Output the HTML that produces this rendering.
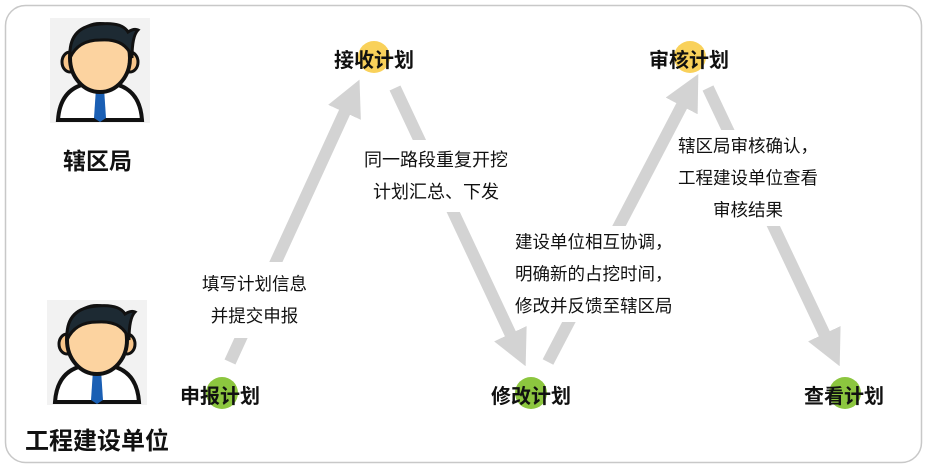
<!DOCTYPE html>
<html><head><meta charset="utf-8"><style>
body{margin:0;background:#fff;}
.t{position:absolute;font-family:"Liberation Sans","Noto Sans CJK SC",sans-serif;color:#111;white-space:nowrap;}
</style></head><body>
<div style="position:relative;width:927px;height:468px;overflow:hidden">
<svg width="927" height="468" style="position:absolute;left:0;top:0">
<defs>
<marker id="ah" markerWidth="3" markerHeight="3" refX="1.5" refY="1.5" orient="auto" markerUnits="strokeWidth"><path d="M0,0 L3,1.5 L0,3 z" fill="#d3d3d3"/></marker>
<g id="person">
<rect x="0" y="0" width="100" height="105" fill="#f2f2f2"/>
<path d="M8,102 Q10,72 35,66 L65,66 Q90,72 92,102 Z" fill="#fff" stroke="#111" stroke-width="4"/>
<path d="M46,70 L54,70 L56,100 L50,104 L44,100 Z" fill="#1a5fb4"/>
<ellipse cx="20" cy="44" rx="8" ry="10" fill="#f8c58a" stroke="#111" stroke-width="3"/>
<ellipse cx="80" cy="44" rx="8" ry="10" fill="#f8c58a" stroke="#111" stroke-width="3"/>
<ellipse cx="50" cy="40" rx="30" ry="34" fill="#fcd3a0" stroke="#111" stroke-width="4"/>
<path d="M20,40 Q18,8 50,6 Q72,4 78,14 Q84,10 88,12 Q82,18 82,40 Q76,20 50,22 Q28,22 20,40 Z" fill="#1d2a33" stroke="#111" stroke-width="3"/>
</g>
</defs>
<rect x="5.5" y="5.5" width="916" height="457" rx="20" fill="none" stroke="#c8c8c8" stroke-width="1.5"/>
<use href="#person" x="50" y="18"/>
<use href="#person" x="47" y="300"/>
<g stroke="#d3d3d3" stroke-width="12" fill="none">
<line x1="230" y1="362" x2="352" y2="96" marker-end="url(#ah)"/>
<line x1="395" y1="88" x2="518" y2="350" marker-end="url(#ah)"/>
<line x1="548" y1="362" x2="690" y2="90" marker-end="url(#ah)"/>
<line x1="708" y1="88" x2="832" y2="350" marker-end="url(#ah)"/>
</g>
<circle cx="374" cy="57" r="16" fill="#f9d15a"/>
<circle cx="690" cy="57" r="16" fill="#f9d15a"/>
<circle cx="222" cy="393" r="16" fill="#8cc63f"/>
<circle cx="531" cy="393" r="16" fill="#8cc63f"/>
<circle cx="845" cy="393" r="16" fill="#8cc63f"/>
</svg>
<div class="t" style="left:63px;top:142px;font-size:23px;font-weight:bold">辖区局</div>
<div class="t" style="left:25px;top:421px;font-size:24px;font-weight:bold">工程建设单位</div>
<div class="t" style="left:334px;top:44px;font-size:20px;font-weight:bold">接收计划</div>
<div class="t" style="left:649px;top:44px;font-size:20px;font-weight:bold">审核计划</div>
<div class="t" style="left:180px;top:380px;font-size:20px;font-weight:bold">申报计划</div>
<div class="t" style="left:491px;top:380px;font-size:20px;font-weight:bold">修改计划</div>
<div class="t" style="left:804px;top:380px;font-size:20px;font-weight:bold">查看计划</div>
<div class="t" style="left:200px;top:262px;font-size:17.5px;line-height:32px;text-align:center;background:#fff;padding:6px 2px">填写计划信息<br>并提交申报</div>
<div class="t" style="left:362px;top:140px;font-size:18px;line-height:32px;text-align:center;background:#fff;padding:4px 2px">同一路段重复开挖<br>计划汇总、下发</div>
<div class="t" style="left:513px;top:226px;font-size:17.5px;line-height:32px;background:#fff;padding:0 2px">建设单位相互协调，<br>明确新的占挖时间，<br>修改并反馈至辖区局</div>
<div class="t" style="left:676px;top:130px;font-size:17.5px;line-height:32px;text-align:center;background:#fff;padding:0 2px">辖区局审核确认，<br>工程建设单位查看<br>审核结果</div>
</div>
</body></html>
